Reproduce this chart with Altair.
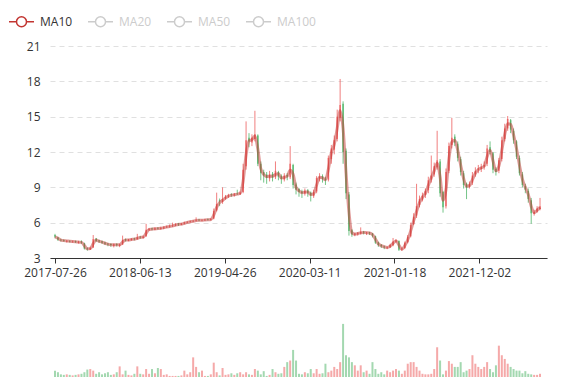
import altair as alt
import pandas as pd

# ---- data (one sample ~ every 7-8 trading days) ----
opens = [4.95, 4.75, 4.55, 4.50, 4.40, 4.45, 4.38, 4.42, 4.30, 4.40,
         4.25, 3.82, 3.72, 3.90, 4.65, 4.48, 4.42, 4.32, 4.22, 4.18,
         4.05, 4.18, 4.05, 4.15, 4.58, 4.48, 4.52, 4.65, 4.60, 4.80,
         4.72, 4.85, 5.38, 5.50, 5.42, 5.55, 5.48, 5.52, 5.62, 5.66,
         5.72, 5.76, 5.90, 5.83, 5.92, 6.02, 6.06, 6.12, 6.16, 6.24,
         6.18, 6.20, 6.28, 6.24, 6.35, 7.05, 7.90, 7.75, 8.05, 8.22,
         8.40, 8.32, 8.48, 8.42, 8.60, 10.80, 13.20, 12.80, 13.10, 13.40,
         11.00, 10.30, 10.10, 9.75, 10.15, 9.85, 10.30, 9.95, 9.65, 10.05,
         9.85, 10.90, 9.25, 8.85, 8.65, 8.45, 8.75, 8.55, 8.25, 8.65,
         9.75, 9.95, 9.75, 9.65, 11.40, 12.20, 13.10, 14.90, 16.10, 12.10,
         8.40, 5.35, 4.98, 5.02, 5.08, 5.22, 5.10, 5.18, 5.08, 4.85,
         4.32, 4.12, 3.98, 3.85, 3.92, 4.08, 4.38, 4.45, 3.72, 3.85,
         4.35, 4.85, 5.90, 6.60, 7.50, 7.95, 8.35, 8.75, 9.65, 10.10,
         10.70, 11.20, 8.60, 7.40, 10.40, 12.60, 13.30, 12.70, 11.40, 10.20,
         9.30, 9.05, 9.40, 10.10, 10.50, 10.55, 10.75, 11.00, 12.40, 11.90,
         10.55, 10.40, 11.40, 13.10, 14.00, 14.70, 13.80, 12.90, 11.50, 10.10,
         9.10, 8.70, 7.90, 6.75, 6.95, 7.15]

highs = [5.05, 4.80, 4.62, 4.58, 4.52, 4.50, 4.48, 4.48, 4.45, 4.50,
         4.30, 3.90, 3.95, 4.95, 4.70, 4.55, 4.48, 4.38, 4.28, 4.25,
         4.22, 4.25, 4.22, 4.90, 4.65, 4.62, 4.68, 4.72, 5.05, 4.88,
         4.90, 5.90, 5.55, 5.58, 5.60, 5.62, 5.65, 5.70, 5.75, 5.85,
         6.00, 5.95, 5.98, 5.98, 6.08, 6.12, 6.18, 6.22, 6.45, 6.32,
         6.28, 6.32, 6.35, 6.38, 7.20, 8.55, 8.05, 9.00, 8.35, 8.45,
         8.50, 8.52, 8.80, 8.65, 11.00, 14.60, 13.60, 13.50, 15.50, 13.50,
         11.20, 10.50, 10.30, 10.40, 10.30, 11.20, 10.40, 10.10, 10.20, 10.20,
         12.50, 11.00, 9.40, 8.95, 8.80, 8.90, 8.85, 8.65, 8.80, 9.95,
         10.20, 10.10, 9.90, 11.70, 12.60, 13.40, 15.60, 18.20, 16.30, 12.30,
         8.60, 5.45, 5.15, 5.20, 5.60, 5.30, 5.22, 5.22, 5.12, 4.90,
         4.38, 4.18, 4.05, 3.98, 4.20, 4.70, 4.60, 4.50, 3.90, 4.40,
         4.95, 6.00, 6.80, 9.30, 8.30, 8.55, 8.90, 9.90, 11.70, 11.10,
         13.80, 11.40, 8.70, 10.60, 12.80, 14.90, 13.50, 12.90, 11.60, 10.40,
         9.40, 9.50, 10.30, 10.70, 10.90, 11.00, 11.20, 12.60, 12.90, 12.00,
         10.70, 11.50, 13.30, 14.40, 15.05, 14.80, 14.00, 13.00, 11.70, 10.30,
         9.30, 8.90, 8.10, 7.10, 7.40, 8.10]

lows = [4.70, 4.45, 4.40, 4.38, 4.32, 4.32, 4.30, 4.28, 4.22, 4.20,
        3.72, 3.62, 3.68, 3.85, 4.35, 4.30, 4.20, 4.10, 4.00, 3.95,
        3.90, 3.98, 3.92, 4.10, 4.40, 4.42, 4.48, 4.50, 4.55, 4.62,
        4.65, 4.80, 5.30, 5.35, 5.35, 5.42, 5.40, 5.45, 5.55, 5.58,
        5.62, 5.70, 5.72, 5.78, 5.85, 5.95, 6.00, 6.05, 6.10, 6.12,
        6.12, 6.15, 6.18, 6.18, 6.28, 6.95, 7.40, 7.60, 7.95, 8.10,
        8.20, 8.22, 8.35, 8.35, 8.50, 10.50, 12.40, 12.50, 12.90, 10.80,
        9.60, 9.40, 9.30, 9.50, 9.50, 9.70, 9.60, 9.30, 9.50, 9.60,
        9.70, 8.90, 8.40, 8.20, 8.10, 8.30, 8.20, 7.80, 8.10, 8.50,
        9.50, 9.40, 9.20, 9.50, 11.00, 11.80, 12.90, 14.60, 11.00, 8.00,
        4.90, 4.80, 4.85, 4.90, 5.00, 5.00, 4.95, 4.95, 4.75, 4.20,
        3.95, 3.85, 3.75, 3.75, 3.85, 4.00, 4.30, 3.60, 3.60, 3.75,
        4.25, 4.75, 5.80, 6.40, 7.30, 7.80, 8.10, 8.50, 9.40, 9.90,
        10.50, 8.20, 6.85, 7.20, 10.20, 12.30, 12.50, 11.20, 10.00, 8.90,
        8.00, 8.90, 9.20, 9.90, 10.20, 10.30, 10.50, 10.80, 11.80, 10.20,
        10.00, 10.20, 11.20, 12.90, 13.80, 13.60, 12.70, 11.40, 10.00, 9.00,
        8.50, 7.70, 5.90, 6.60, 6.85, 7.05]

closes = [4.80, 4.55, 4.50, 4.45, 4.45, 4.40, 4.40, 4.35, 4.35, 4.30,
          3.80, 3.75, 3.85, 4.60, 4.45, 4.40, 4.30, 4.20, 4.15, 4.10,
          4.15, 4.10, 4.15, 4.55, 4.50, 4.55, 4.60, 4.60, 4.75, 4.75,
          4.80, 5.40, 5.45, 5.45, 5.50, 5.50, 5.55, 5.60, 5.65, 5.70,
          5.75, 5.85, 5.85, 5.90, 6.00, 6.05, 6.10, 6.15, 6.20, 6.20,
          6.20, 6.25, 6.25, 6.30, 7.00, 7.60, 7.80, 8.00, 8.20, 8.30,
          8.35, 8.40, 8.45, 8.55, 10.50, 13.00, 12.90, 13.20, 13.50, 11.00,
          10.20, 10.00, 9.80, 10.10, 9.80, 10.40, 9.90, 9.70, 10.00, 9.90,
          11.00, 9.20, 8.80, 8.60, 8.50, 8.70, 8.50, 8.30, 8.60, 9.80,
          9.90, 9.70, 9.60, 11.50, 12.30, 13.00, 15.00, 16.00, 12.00, 8.50,
          5.30, 5.00, 5.05, 5.10, 5.20, 5.15, 5.15, 5.10, 4.90, 4.30,
          4.10, 4.00, 3.90, 3.90, 4.10, 4.40, 4.50, 3.70, 3.80, 4.30,
          4.80, 5.80, 6.50, 7.40, 8.00, 8.30, 8.70, 9.60, 10.00, 10.80,
          11.30, 8.50, 7.30, 10.30, 12.50, 13.20, 12.80, 11.50, 10.30, 9.20,
          9.00, 9.30, 10.00, 10.40, 10.60, 10.70, 10.90, 12.30, 12.00, 10.50,
          10.30, 11.30, 13.00, 14.00, 14.80, 13.90, 13.00, 11.60, 10.20, 9.20,
          8.80, 8.00, 6.80, 6.90, 7.20, 7.40]

volumes = [12, 9, 5, 4, 5, 4, 3, 4, 5, 6,
           9, 14, 15, 12, 6, 9, 5, 7, 9, 4,
           5, 9, 20, 5, 12, 4, 3, 6, 20, 6,
           5, 15, 6, 15, 7, 17, 15, 4, 5, 2,
           2, 2, 2, 3, 12, 5, 9, 37, 19, 9,
           12, 2, 2, 5, 27, 9, 3, 17, 4, 5,
           7, 4, 7, 9, 5, 9, 5, 4, 15, 12,
           5, 11, 2, 4, 15, 9, 6, 7, 19, 28,
           31, 51, 31, 6, 5, 9, 7, 15, 7, 15,
           6, 7, 25, 9, 12, 19, 15, 28, 100, 41,
           37, 28, 22, 12, 22, 9, 12, 6, 28, 15,
           6, 9, 5, 12, 9, 12, 15, 12, 6, 12,
           25, 28, 28, 19, 12, 6, 5, 5, 6, 15,
           56, 31, 5, 12, 30, 25, 19, 19, 28, 9,
           12, 15, 41, 25, 19, 15, 19, 28, 15, 9,
           22, 59, 41, 34, 25, 19, 15, 12, 12, 7,
           11, 6, 5, 4, 4, 6]

tick_labels = ["2017-07-26", "2018-06-13", "2019-04-26",
               "2020-03-11", "2021-01-18", "2021-12-02"]
tick_positions = [0, 28.87, 57.74, 86.61, 115.48, 144.35]
legend_names = ["MA10", "MA20", "MA50", "MA100"]

UP = "#eb5454"
DOWN = "#47b262"
FONT = "Open Sans"

df = pd.DataFrame({
    "idx": list(range(len(closes))),
    "open": opens, "high": highs, "low": lows, "close": closes,
    "volume": volumes,
})
df["dir"] = ["up" if c >= o else "down" for o, c in zip(opens, closes)]

label_js = "[" + ",".join("'%s'" % s for s in tick_labels) + "]"
xdom = [0, 165.67]

x_price = alt.X(
    "idx:Q",
    scale=alt.Scale(domain=xdom, nice=False, zero=False),
    axis=alt.Axis(values=tick_positions,
                  labelExpr=label_js + "[round(datum.value / 28.87)]",
                  title=None, grid=False, domainColor="#333", tickColor="#333",
                  tickSize=5, labelColor="#333", labelFontSize=12,
                  labelFont=FONT, labelPadding=4, labelFlush=False,
                  labelOverlap=False),
)
y_scale = alt.Scale(domain=[3, 21], nice=False, zero=False)
y_axis = alt.Axis(values=[3, 6, 9, 12, 15, 18, 21], title=None, grid=True,
                  gridDash=[5, 4], gridColor="#e0e0e0", domain=False,
                  ticks=False, tickSize=0, labelPadding=10, labelColor="#333",
                  labelFontSize=12, labelFont=FONT)

dir_fill = alt.Fill("dir:N", scale=alt.Scale(domain=["up", "down"], range=[UP, DOWN]), legend=None)
dir_stroke = alt.Stroke("dir:N", scale=alt.Scale(domain=["up", "down"], range=[UP, DOWN]), legend=None)

base = alt.Chart(df)

wicks = base.mark_rule(strokeWidth=1, opacity=0.75).encode(
    x=x_price,
    y=alt.Y("low:Q", scale=y_scale, axis=y_axis),
    y2="high:Q",
    stroke=dir_stroke,
)
bodies = base.mark_bar(size=1.6, opacity=0.75).encode(
    x=x_price,
    y=alt.Y("open:Q", scale=y_scale, axis=y_axis),
    y2="close:Q",
    fill=dir_fill,
)

legend_symbol = ("M-1,0L-0.4,0M0.4,0L1,0"
                 "M-0.4,0A0.4,0.4 0 1,1 0.4,0A0.4,0.4 0 1,1 -0.4,0Z")

ma = base.transform_window(
    ma="mean(close)", frame=[-1, 0], sort=[{"field": "idx"}]
).transform_calculate(series="'MA10'").mark_line(
    interpolate="monotone", strokeWidth=3, opacity=0.5
).encode(
    x=x_price,
    y=alt.Y("ma:Q", scale=y_scale, axis=y_axis),
    color=alt.Color(
        "series:N",
        scale=alt.Scale(domain=legend_names,
                        range=["#c23531", "#cccccc", "#cccccc", "#cccccc"]),
        legend=alt.Legend(
            title=None, orient="none", direction="horizontal",
            legendX=-42, legendY=-38,
            symbolType=legend_symbol, symbolSize=625, symbolStrokeWidth=1.5,
            symbolFillColor="#ffffff", symbolOpacity=1,
            labelFont=FONT, labelFontSize=12, labelOffset=5,
            labelColor={"expr": "datum.value == 'MA10' ? '#333333' : '#cccccc'"},
            columnPadding=12,
        ),
    ),
)

price = alt.layer(wicks, bodies, ma).properties(width=497, height=212)

volume = base.mark_bar(size=2, opacity=0.5).encode(
    x=alt.X("idx:Q", scale=alt.Scale(domain=xdom, nice=False, zero=False),
            axis=alt.Axis(labels=False, ticks=False, grid=False, title=None,
                          domainColor="#333")),
    y=alt.Y("volume:Q", scale=alt.Scale(domain=[0, 113], nice=False), axis=None),
    fill=dir_fill,
).properties(width=497, height=60)

chart = alt.vconcat(price, volume, spacing=39).resolve_legend(
    color="independent"
).properties(
    padding={"left": 0, "top": 0, "right": 5, "bottom": 0},
    background="white",
).configure_view(stroke=None)

chart.save("out.html", embed_options={"renderer": "svg", "actions": False})
